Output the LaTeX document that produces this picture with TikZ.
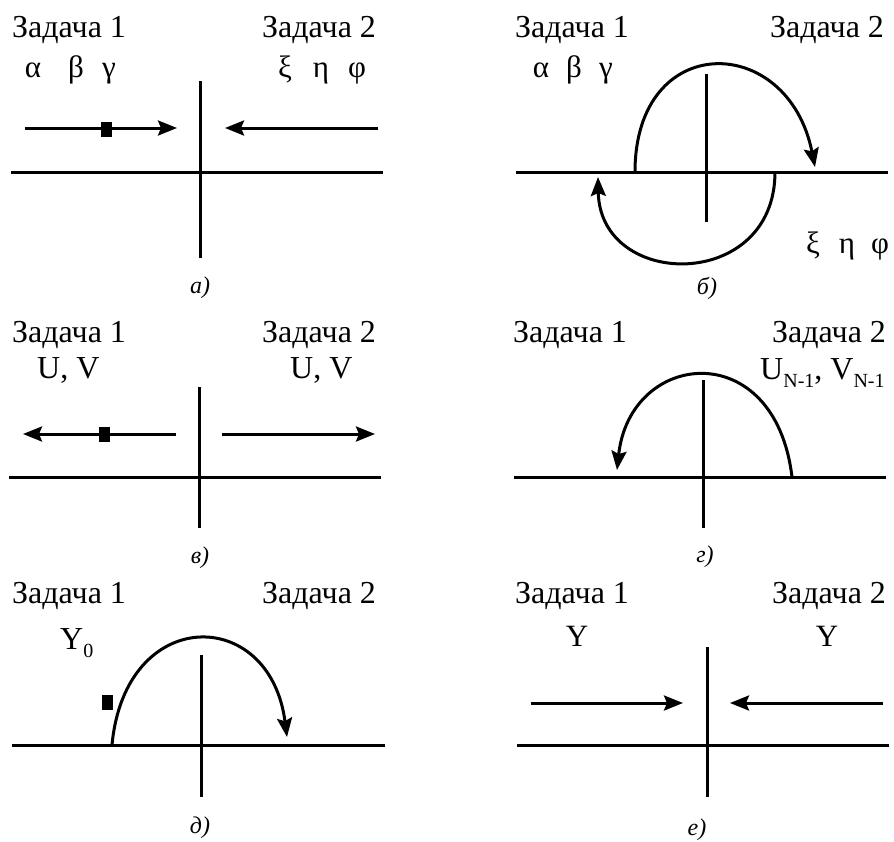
\documentclass[tikz,border=0pt]{standalone}
\usepackage{fontspec}
\setmainfont{Liberation Serif}
\usetikzlibrary{arrows.meta}
\newcommand{\lowsub}[1]{\raisebox{-0.28em}{\fontsize{20}{21}\selectfont #1}}
\tikzset{
  ln/.style={line width=3pt},
  arr/.style={line width=3pt,-{Stealth[length=19pt,width=15pt,inset=3pt]}},
  txt/.style={anchor=base west,inner sep=0pt,font=\fontsize{32}{34}\selectfont},
  gk/.style={anchor=base,inner sep=0pt,font=\fontsize{31}{33}\selectfont},
  lbl/.style={inner sep=0pt,font=\fontsize{24}{26}\selectfont\itshape},
  sq/.style={fill=black,draw=none,minimum width=11pt,minimum height=15pt,inner sep=0pt}
}
\begin{document}
\begin{tikzpicture}[x=1pt,y=-1pt]
\useasboundingbox (0,0) rectangle (894,841);
% ---------- panel a
\node[txt] (a1) at (12,37) {Задача 1};
\node[txt] (a2) at (262,37) {Задача 2};
\node[gk] (aal) at (33,77) {α};
\node[gk] (abe) at (76,77) {β};
\node[gk] (aga) at (109,77) {γ};
\node[gk] (axi) at (285,77) {ξ};
\node[gk] (aet) at (321,77) {η};
\node[gk] (aph) at (357,77) {φ};
\coordinate (ahl) at (11,172); \coordinate (ahr) at (383,172);
\coordinate (avt) at (200,81); \coordinate (avb) at (200,258);
\draw[ln] (ahl) -- (ahr); \draw[ln] (avt) -- (avb);
\coordinate (aLs) at (25,128); \coordinate (aLe) at (177,128);
\coordinate (aRs) at (378,128); \coordinate (aRe) at (225,128);
\draw[arr] (aLs) -- (aLe);
\draw[arr] (aRs) -- (aRe);
\node[sq] (asq) at (106.5,129.5) {};
\node[lbl] (alab) at (200,288) {а)};
% ---------- panel b
\node[txt] (b1) at (515,37) {Задача 1};
\node[txt] (b2) at (770,37) {Задача 2};
\node[gk] (bal) at (541,77) {α};
\node[gk] (bbe) at (574,77) {β};
\node[gk] (bga) at (606,77) {γ};
\node[gk] (bxi) at (813,253) {ξ};
\node[gk] (bet) at (847,253) {η};
\node[gk] (bph) at (880,253) {φ};
\coordinate (bhl) at (516,172); \coordinate (bhr) at (888,172);
\coordinate (bvt) at (706,74); \coordinate (bvb) at (706,222);
\draw[ln] (bhl) -- (bhr); \draw[ln] (bvt) -- (bvb);
\coordinate (bus) at (635,172); \coordinate (bue) at (815,167);
\draw[arr] (bus) .. controls (635,30) and (788,32) .. (bue);
\coordinate (bls) at (775,172); \coordinate (ble) at (598,177);
\draw[arr] (bls) .. controls (775,292) and (600,290) .. (ble);
\node[lbl] (blab) at (707,288) {б)};
% ---------- panel v
\node[txt] (v1) at (12,342) {Задача 1};
\node[txt] (v2) at (262,342) {Задача 2};
\node[txt] (vuv1) at (37,378) {U, V};
\node[txt] (vuv2) at (290,378) {U, V};
\coordinate (vhl) at (9,477); \coordinate (vhr) at (381,477);
\coordinate (vvt) at (199,387); \coordinate (vvb) at (199,528);
\draw[ln] (vhl) -- (vhr); \draw[ln] (vvt) -- (vvb);
\coordinate (vLs) at (176,434); \coordinate (vLe) at (23,434);
\coordinate (vRs) at (222,434); \coordinate (vRe) at (375,434);
\draw[arr] (vLs) -- (vLe);
\draw[arr] (vRs) -- (vRe);
\node[sq] (vsq) at (104.5,434) {};
\node[lbl] (vlab) at (200,558) {в)};
% ---------- panel g
\node[txt] (g1) at (513,342) {Задача 1};
\node[txt] (g2) at (772,342) {Задача 2};
\node[txt] (guv) at (760,379) {U\lowsub{N-1}, V\lowsub{N-1}};
\coordinate (ghl) at (514,477); \coordinate (ghr) at (886,477);
\coordinate (gvt) at (703,380); \coordinate (gvb) at (703,528);
\draw[ln] (ghl) -- (ghr); \draw[ln] (gvt) -- (gvb);
\coordinate (gas) at (792,477); \coordinate (gae) at (617,470);
\draw[arr] (gas) .. controls (775,335) and (630,350) .. (gae);
\node[lbl] (glab) at (705,557) {г)};
% ---------- panel d
\node[txt] (d1) at (12,603) {Задача 1};
\node[txt] (d2) at (262,603) {Задача 2};
\node[txt] (dy) at (60,649) {Y\lowsub{0}};
\coordinate (dhl) at (12,745); \coordinate (dhr) at (385,745);
\coordinate (dvt) at (201,655); \coordinate (dvb) at (201,797);
\draw[ln] (dhl) -- (dhr); \draw[ln] (dvt) -- (dvb);
\coordinate (das) at (112,745); \coordinate (dae) at (287,737);
\draw[arr] (das) .. controls (125,605) and (270,605) .. (dae);
\node[sq] (dsq) at (107.5,702) {};
\node[lbl] (dlab) at (200,828) {д)};
% ---------- panel e
\node[txt] (e1) at (515,603) {Задача 1};
\node[txt] (e2) at (772,603) {Задача 2};
\node[gk] (ey1) at (577,646) {Y};
\node[gk] (ey2) at (827,646) {Y};
\coordinate (ehl) at (517,745); \coordinate (ehr) at (889,745);
\coordinate (evt) at (707,647); \coordinate (evb) at (707,797);
\draw[ln] (ehl) -- (ehr); \draw[ln] (evt) -- (evb);
\coordinate (eLs) at (531,703); \coordinate (eLe) at (683,703);
\coordinate (eRs) at (883,703); \coordinate (eRe) at (730,703);
\draw[arr] (eLs) -- (eLe);
\draw[arr] (eRs) -- (eRe);
\node[lbl] (elab) at (697,830) {е)};
\end{tikzpicture}
\end{document}
